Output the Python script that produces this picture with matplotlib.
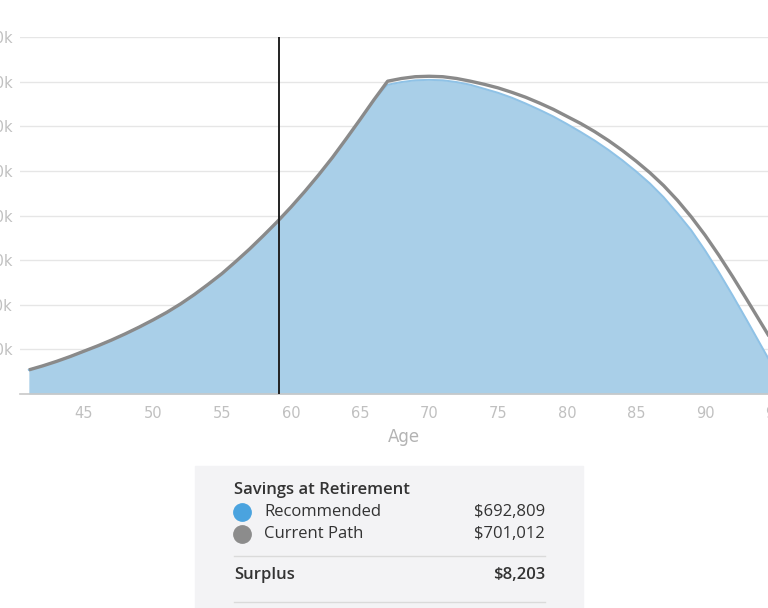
import matplotlib.pyplot as plt
from matplotlib.patches import Rectangle
from matplotlib.lines import Line2D
from matplotlib.ticker import FuncFormatter


# Chart data (in thousands of dollars)
ages = list(range(41, 96))
saved_before = [54, 63, 73, 84, 96, 108, 121, 135, 150, 166, 183, 202, 223, 246, 270,
                297, 325, 355, 386, 419, 454, 491, 530, 572, 615, 659]
recommended_after = [693, 699, 703, 704, 703, 699, 693, 684, 675, 664, 651, 637, 622,
                     605, 587, 568, 547, 524, 499, 472, 441, 405, 367, 322, 273, 221,
                     167, 112, 57]
current_after = [701, 707, 711, 712, 711, 707, 701, 694, 686, 676, 665, 652, 638,
                 622, 606, 588, 568, 546, 522, 496, 467, 434, 397, 356, 311, 263,
                 213, 162, 111]
recommended = [v * 1000 for v in saved_before + recommended_after]
current_path = [v * 1000 for v in saved_before + current_after]
current_age = 59.1
x_ticks = [45, 50, 55, 60, 65, 70, 75, 80, 85, 90, 95]
y_ticks = [100000, 200000, 300000, 400000, 500000, 600000, 700000, 800000]

summary_title = "Savings at Retirement"
summary_rows = [("Recommended", "$692,809", "#4aa3df"),
                ("Current Path", "$701,012", "#8c8c8c")]
surplus_label, surplus_value = "Surplus", "$8,203"

W, H = 768, 608
TICK_FONT = ['Liberation Sans Narrow', 'DejaVu Sans']
BOX_FONT = ['Open Sans', 'DejaVu Sans']


def fx(px):
    return px / W


def fy(py):
    return 1 - py / H


fig = plt.figure(figsize=(W / 100, H / 100), dpi=100)

# axes runs off both sides of the picture, like the cropped screenshot
x0, x1 = 40.36, 96.0
ax = fig.add_axes([fx(20), fy(394), (x1 - x0) * 13.8 / W, (394 - 37) / H])
ax.set_xlim(x0, x1)
ax.set_ylim(0, 800000)

ax.fill_between(ages, recommended, color='#a9cfe8', lw=0, zorder=2)
ax.plot(ages, recommended, color='#8fc2e6', lw=1.4, zorder=3)
ax.plot(ages, current_path, color='#8a8a8a', lw=2.4, zorder=4,
        solid_capstyle='butt', solid_joinstyle='round')
ax.plot([current_age, current_age], [0, 800000], color='#222222', lw=1.4, zorder=5)

ax.set_yticks(y_ticks)
ax.yaxis.set_major_formatter(FuncFormatter(lambda v, p: f'{int(v / 1000)}k'))
ax.set_xticks(x_ticks)
ax.grid(axis='y', color='#e6e6e6', lw=1, zorder=0)
ax.tick_params(length=0, colors='#c0c0c0', labelsize=10.5)
ax.tick_params(axis='y', pad=5)
ax.tick_params(axis='x', pad=9)
for lab in ax.get_xticklabels() + ax.get_yticklabels():
    lab.set_family(TICK_FONT)
for s in ['top', 'right', 'left']:
    ax.spines[s].set_visible(False)
ax.spines['bottom'].set_color('#c8c8c8')
ax.spines['bottom'].set_linewidth(1.2)
ax.set_xlabel('Age', color='#b3b3b3', fontsize=12, family=TICK_FONT, labelpad=5)

# summary box
fig.patches.append(Rectangle((fx(195), fy(612)), fx(583) - fx(195), fy(466) - fy(612),
                             transform=fig.transFigure, color='#f3f3f5', zorder=0))
fig.text(fx(234), fy(490), summary_title, fontsize=12, fontweight='semibold',
         color='#333333', family=BOX_FONT, va='center')
for i, (name, value, col) in enumerate(summary_rows):
    yy = 512 + 22 * i
    fig.lines.append(Line2D([fx(242)], [fy(yy)], transform=fig.transFigure,
                            marker='o', markersize=12.5, color=col, lw=0))
    fig.text(fx(264), fy(yy), name, fontsize=12, color='#333333',
             family=BOX_FONT, va='center')
    fig.text(fx(545), fy(yy), value, fontsize=12, color='#333333',
             family=BOX_FONT, va='center', ha='right')
fig.lines.append(Line2D([fx(234), fx(545)], [fy(556), fy(556)],
                        transform=fig.transFigure, color='#dadada', lw=1))
fig.text(fx(234), fy(575), surplus_label, fontsize=12, fontweight='semibold',
         color='#333333', family=BOX_FONT, va='center')
fig.text(fx(545), fy(575), surplus_value, fontsize=12, fontweight='semibold',
         color='#333333', family=BOX_FONT, va='center', ha='right')
fig.lines.append(Line2D([fx(234), fx(545)], [fy(602), fy(602)],
                        transform=fig.transFigure, color='#dadada', lw=1))

fig.savefig('out.png', dpi=100)
